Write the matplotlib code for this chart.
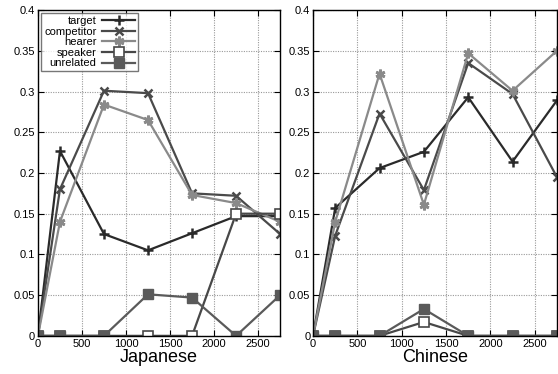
import matplotlib
matplotlib.use("Agg")
from matplotlib import pyplot as plt
from matplotlib.ticker import FormatStrFormatter

x = [0, 250, 750, 1250, 1750, 2250, 2750]

# Japanese
jp_target = [0, 0.227, 0.125, 0.105, 0.126, 0.147, 0.147]
jp_competitor = [0, 0.180, 0.301, 0.298, 0.175, 0.172, 0.125]
jp_hearer = [0, 0.140, 0.284, 0.265, 0.173, 0.163, 0.140]
jp_speaker = [0, 0, 0, 0, 0, 0.150, 0.150]
jp_unrelated = [0, 0, 0, 0.051, 0.047, 0, 0.050]

# Chinese
cn_target = [0, 0.157, 0.206, 0.226, 0.293, 0.214, 0.289]
cn_competitor = [0, 0.123, 0.273, 0.179, 0.335, 0.297, 0.195]
cn_hearer = [0, 0.140, 0.322, 0.161, 0.347, 0.301, 0.350]
cn_speaker = [0, 0, 0, 0.017, 0, 0, 0]
cn_unrelated = [0, 0, 0, 0.033, 0, 0, 0]

labels = ["target", "competitor", "hearer", "speaker", "unrelated"]
styles = [
    dict(color="#2a2a2a", marker="+", markersize=7, mew=1.8),
    dict(color="#4a4a4a", marker="x", markersize=6, mew=1.8),
    dict(color="#8a8a8a", marker=(6, 2, 0), markersize=7, mew=2.0),
    dict(color="#484848", marker="s", markersize=6.5, mfc="white", mew=1.2),
    dict(color="#5a5a5a", marker="s", markersize=6.5, mew=1.0),
]

plt.rcParams["font.family"] = ["Liberation Sans", "DejaVu Sans"]
fig = plt.figure(figsize=(5.58, 3.74), dpi=100)
ax1 = fig.add_axes([0.068, 0.102, 0.434, 0.871])
ax2 = fig.add_axes([0.561, 0.102, 0.437, 0.871])

panels = [
    (ax1, "Japanese", [jp_target, jp_competitor, jp_hearer, jp_speaker, jp_unrelated]),
    (ax2, "Chinese", [cn_target, cn_competitor, cn_hearer, cn_speaker, cn_unrelated]),
]

for ax, title, series in panels:
    for lab, ys, st in zip(labels, series, styles):
        ax.plot(x, ys, label=lab, lw=1.6, **st)
    ax.set_xlim(0, 2750)
    ax.set_ylim(0, 0.4)
    ax.set_xticks([0, 500, 1000, 1500, 2000, 2500])
    ax.set_yticks([0, 0.05, 0.1, 0.15, 0.2, 0.25, 0.3, 0.35, 0.4])
    ax.yaxis.set_major_formatter(FormatStrFormatter("%g"))
    ax.tick_params(direction="in", labelsize=8, length=4, top=True, right=True, pad=2)
    ax.grid(True, color="#999999", linestyle=(0, (1, 1.2)), lw=0.8)
    for sp in ax.spines.values():
        sp.set_linewidth(1.0)
    ax.set_xlabel(title, fontsize=13, labelpad=0)

leg = ax1.legend(loc="upper left", markerfirst=False, fontsize=8, frameon=True,
                 fancybox=False, edgecolor="#555555", borderpad=0.25, labelspacing=0.05,
                 handlelength=3.0, handletextpad=0.5, borderaxespad=0.3)
leg.get_frame().set_linewidth(1.0)
for t in leg.get_texts():
    t.set_ha("right")

fig.savefig("out.png", dpi=100)
